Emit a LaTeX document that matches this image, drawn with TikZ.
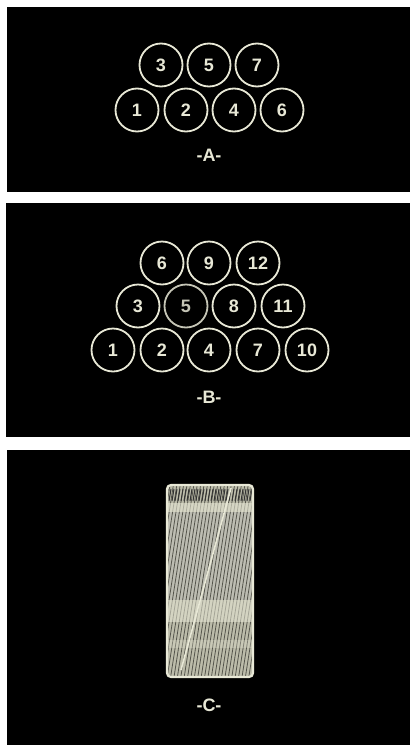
\documentclass[tikz,border=0pt]{standalone}
\usepackage{fontspec}
\setmainfont{Liberation Sans}
\definecolor{cream}{HTML}{E8E8D6}
\definecolor{crtfill}{HTML}{BCBCAA}
\definecolor{crtline}{HTML}{55554C}
\tikzset{
  panel/.style={fill=black,draw=none},
  ring/.style={circle,draw=cream,line width=1.8pt,minimum size=43pt,inner sep=0pt,text=cream,font=\fontsize{18}{18}\selectfont\bfseries},
  dimring/.style={ring,draw=cream!85!black,text=cream!85!black},
  caption/.style={text=cream,font=\fontsize{18}{18}\selectfont\bfseries}
}
\begin{document}
\begin{tikzpicture}[x=1pt,y=-1pt]
\useasboundingbox (0,0) rectangle (410,747);
\fill[white] (0,0) rectangle (410,747);
% panels
\path[panel] (7,7) rectangle (410,192);
\path[panel] (6,203) rectangle (410,437);
\path[panel] (7,450) rectangle (410,745);
% panel A
\node[ring] (a3) at (161,65) {3};
\node[ring] (a5) at (209,65) {5};
\node[ring] (a7) at (257,65) {7};
\node[ring] (a1) at (137,110) {1};
\node[ring] (a2) at (186,110) {2};
\node[ring] (a4) at (234,110) {4};
\node[ring] (a6) at (282,110) {6};
\node[caption] (capA) at (209,155) {-A-};
% panel B
\node[ring] (b6) at (162,263) {6};
\node[ring] (b9) at (209,263) {9};
\node[ring] (b12) at (258,263) {12};
\node[ring] (b3) at (138,306) {3};
\node[dimring] (b5) at (186,306) {5};
\node[ring] (b8) at (234,306) {8};
\node[ring] (b11) at (283,306) {11};
\node[ring] (b1) at (113,350) {1};
\node[ring] (b2) at (162,350) {2};
\node[ring] (b4) at (209,350) {4};
\node[ring] (b7) at (258,350) {7};
\node[ring] (b10) at (307,350) {10};
\node[caption] (capB) at (209,397) {-B-};
% panel C
\begin{scope}
  \clip[rounded corners=4pt] (167,485) rectangle (253,677);
  \fill[crtfill] (167,485) rectangle (253,677);
  \fill[black!25,opacity=0.4] (167,512) rectangle (253,600);
  \foreach \i in {0,3.4,...,140}{
    \draw[crtline,line width=0.8pt] (140+\i,677) -- (140+\i+30,485);
  }
  \foreach \i in {0,3,...,90}{
    \draw[black!80,line width=1pt] (166+\i,501) -- (168+\i,489);
  }
  \fill[cream,opacity=0.6] (167,503) rectangle (253,512);
  \fill[cream,opacity=0.55] (167,600) rectangle (253,622);
  \fill[cream,opacity=0.3] (167,640) rectangle (253,648);
  \draw[cream,line width=1.6pt] (231,488) -- (181,670);
\end{scope}
\draw[cream,line width=2.2pt,rounded corners=4pt] (167,485) rectangle (253,677);
\node[caption] (capC) at (209,705) {-C-};
\end{tikzpicture}
\end{document}
